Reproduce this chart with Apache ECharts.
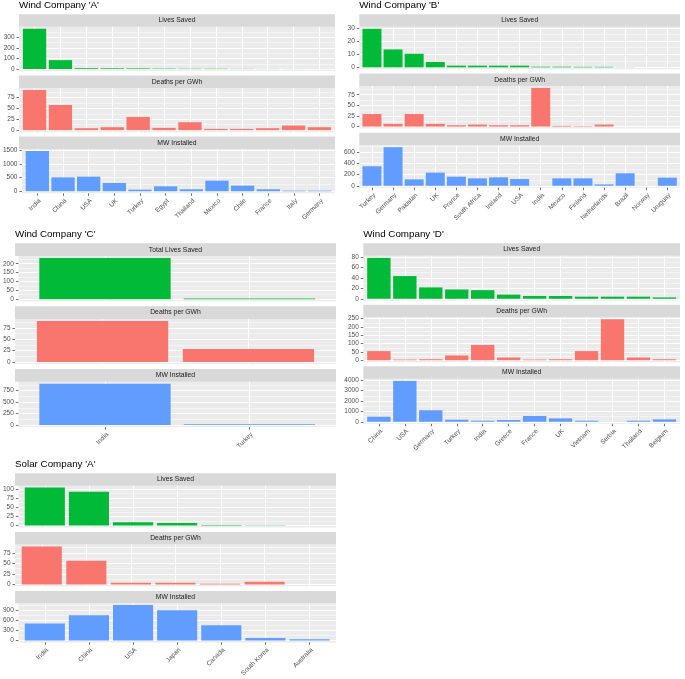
<!DOCTYPE html>
<html><head><meta charset="utf-8">
<script src="https://cdn.jsdelivr.net/npm/echarts@6/dist/echarts.min.js"></script>
<style>html,body{margin:0;padding:0;background:#fff}#c{width:685px;height:679px}</style>
</head><body><div id="c"></div>
<script>
// ---------- DATA ----------
const windA_countries = ['India','China','USA','UK','Turkey','Egypt','Thailand','Mexico','Chile','France','Italy','Germany'];
const windA_lives  = [378, 84, 8, 7, 6, 4, 3, 3, 1.5, 1, 0.6, 0.4];
const windA_deaths = [92, 57.5, 4.5, 6.8, 30.3, 5.3, 18.2, 3, 3, 4.5, 10.6, 6.8];
const windA_mw     = [1464, 508, 532, 302, 60, 181, 73, 387, 206, 73, 24, 24];
const windA_livesTicks  = [0, 100, 200, 300];
const windA_deathsTicks = [0, 25, 50, 75];
const windA_mwTicks     = [0, 500, 1000, 1500];

const windB_countries = ['Turkey','Germany','Pakistan','UK','France','South Africa','Ireland','USA','India','Mexico','Finland','Netherlands','Brazil','Norway','Uruguay'];
const windB_lives  = [29.3, 13.6, 10.3, 4.1, 1.3, 1.3, 1.3, 1.3, 0.5, 0.5, 0.4, 0.4, 0.1, 0, 0];
const windB_deaths = [29.5, 6.4, 29.5, 6.4, 3.2, 4.8, 3.2, 3.2, 91, 1.6, 1, 4.8, 0, 0, 0];
const windB_mw     = [348, 688, 114, 234, 162, 132, 150, 120, 0, 132, 132, 24, 222, 0, 144];
const windB_livesTicks  = [0, 10, 20, 30];
const windB_deathsTicks = [0, 25, 50, 75];
const windB_mwTicks     = [0, 200, 400, 600];

const windC_countries = ['India','Turkey'];
const windC_lives  = [232, 4];
const windC_deaths = [90, 28.4];
const windC_mw     = [900, 15];
const windC_livesTicks  = [0, 50, 100, 150, 200];
const windC_deathsTicks = [0, 25, 50, 75];
const windC_mwTicks     = [0, 250, 500, 750];

const windD_countries = ['China','USA','Germany','Turkey','India','Greece','France','UK','Vietnam','Serbia','Thailand','Belgium'];
const windD_lives  = [78.6, 43.6, 21.8, 17.8, 16.5, 7.9, 5.3, 5.3, 4, 4, 4, 2.6];
const windD_deaths = [55, 4, 6, 28.7, 92, 16.4, 4, 6, 55, 246, 16.4, 6];
const windD_mw     = [488, 3935, 1106, 195, 98, 163, 553, 325, 98, 0, 98, 228];
const windD_livesTicks  = [0, 20, 40, 60, 80];
const windD_deathsTicks = [0, 50, 100, 150, 200, 250];
const windD_mwTicks     = [0, 1000, 2000, 3000, 4000];

const solarA_countries = ['India','China','USA','Japan','Canada','South Korea','Australia'];
const solarA_lives  = [103.7, 92.7, 9.2, 7.3, 1.8, 0.9, 0];
const solarA_deaths = [90.5, 56.3, 4, 4, 1.6, 6.3, 0];
const solarA_mw     = [510, 751, 1057, 900, 455, 74, 37];
const solarA_livesTicks  = [0, 25, 50, 75, 100];
const solarA_deathsTicks = [0, 25, 50, 75];
const solarA_mwTicks     = [0, 300, 600, 900];

// ---------- LAYOUT / STYLE ----------
const FONT = '"Liberation Sans", Arial, sans-serif';
const COLORS = ['#00BA38', '#F8766D', '#619CFF'];

const panels = [
  { title: "Wind Company 'A'", cats: windA_countries,
    facets: [['Lives Saved', windA_lives, windA_livesTicks], ['Deaths per GWh', windA_deaths, windA_deathsTicks], ['MW Installed', windA_mw, windA_mwTicks]],
    L: { left: 19, right: 335, top: 14.3, strip: 12.5, plot: 44.3, gap: 4.3, titleY: 0.5 } },
  { title: "Wind Company 'B'", cats: windB_countries,
    facets: [['Lives Saved', windB_lives, windB_livesTicks], ['Deaths per GWh', windB_deaths, windB_deathsTicks], ['MW Installed', windB_mw, windB_mwTicks]],
    L: { left: 359.3, right: 680, top: 14.3, strip: 12.5, plot: 42.5, gap: 4.2, titleY: 0.5 } },
  { title: "Wind Company 'C'", cats: windC_countries,
    facets: [['Total Lives Saved', windC_lives, windC_livesTicks], ['Deaths per GWh', windC_deaths, windC_deathsTicks], ['MW Installed', windC_mw, windC_mwTicks]],
    L: { left: 15, right: 336, top: 243.3, strip: 12.7, plot: 45.2, gap: 5, titleY: 229.5 } },
  { title: "Wind Company 'D'", cats: windD_countries,
    facets: [['Lives Saved', windD_lives, windD_livesTicks], ['Deaths per GWh', windD_deaths, windD_deathsTicks], ['MW Installed', windD_mw, windD_mwTicks]],
    L: { left: 363.3, right: 680, top: 243.3, strip: 12.5, plot: 45, gap: 4, titleY: 229.5 } },
  { title: "Solar Company 'A'", cats: solarA_countries,
    facets: [['Lives Saved', solarA_lives, solarA_livesTicks], ['Deaths per GWh', solarA_deaths, solarA_deathsTicks], ['MW Installed', solarA_mw, solarA_mwTicks]],
    L: { left: 15, right: 336, top: 473.3, strip: 12.4, plot: 41.8, gap: 4.6, titleY: 459.5 } }
];

const grids = [], xAxes = [], yAxes = [], series = [], graphics = [];

panels.forEach(p => {
  const L = p.L;
  const w = L.right - L.left;
  const n = p.cats.length;
  const idx = p.cats.map((_, i) => i);
  graphics.push({ type: 'text', x: L.left, y: L.titleY, silent: true,
    style: { text: p.title, font: '9.8px ' + FONT, fill: '#000', verticalAlign: 'top' } });
  p.facets.forEach((f, k) => {
    const [name, values, ticks] = f;
    const stripTop = L.top + k * (L.strip + L.plot + L.gap);
    const plotTop = stripTop + L.strip;
    graphics.push({ type: 'rect', silent: true, shape: { x: L.left, y: stripTop, width: w, height: L.strip }, style: { fill: '#D9D9D9' } });
    graphics.push({ type: 'text', silent: true, x: L.left + w / 2, y: stripTop + L.strip / 2,
      style: { text: name, font: '6.8px ' + FONT, fill: '#1A1A1A', align: 'center', verticalAlign: 'middle' } });
    const gi = grids.length;
    grids.push({ left: L.left, top: plotTop, width: w, height: L.plot, show: true, backgroundColor: '#EBEBEB', borderWidth: 0 });
    const bottom = k === 2;
    xAxes.push({ type: 'value', gridIndex: gi, min: -0.6, max: n - 0.4, position: 'bottom',
      axisLine: { show: false, onZero: false },
      axisTick: { show: bottom, customValues: idx, length: 2.5, lineStyle: { color: '#333333', width: 0.7 } },
      axisLabel: { show: bottom, customValues: idx, rotate: 45, margin: 4, fontSize: 6.5, fontFamily: FONT, color: '#4D4D4D',
        align: 'right', verticalAlign: 'top',
        formatter: v => p.cats[Math.round(v)] },
      splitLine: { show: true, lineStyle: { color: '#FFFFFF', width: 1 } } });
    const M = Math.max(...values);
    const ymin = -0.05 * M, ymax = 1.05 * M;
    const step = ticks[1] - ticks[0];
    const minors = [];
    for (let t = ticks[0] - step / 2; t <= ymax; t += step) if (t >= ymin) minors.push(t);
    const yi = yAxes.length;
    yAxes.push({ type: 'value', gridIndex: gi, min: ymin, max: ymax, position: 'left',
      axisLine: { show: false, onZero: false },
      axisTick: { show: true, customValues: ticks, length: 2.5, lineStyle: { color: '#333333', width: 0.7 } },
      axisLabel: { customValues: ticks, margin: 4.5, fontSize: 6.5, fontFamily: FONT, color: '#4D4D4D',
        formatter: v => String(Math.round(v)) },
      splitLine: { show: true, lineStyle: { color: '#FFFFFF', width: 1 } } });
    yAxes.push({ type: 'value', gridIndex: gi, min: ymin, max: ymax, position: 'left',
      axisLine: { show: false, onZero: false },
      axisTick: { show: false, customValues: minors },
      axisLabel: { show: false, customValues: minors },
      splitLine: { show: true, lineStyle: { color: '#FFFFFF', width: 0.5 } } });
    series.push({ type: 'bar', xAxisIndex: gi, yAxisIndex: yi, silent: true,
      barWidth: 0.9 * w / (n + 0.2),
      itemStyle: { color: COLORS[k] },
      data: values.map((v, i) => [i, v]) });
  });
});

const chart = echarts.init(document.getElementById('c'), null, { renderer: 'canvas' });
chart.setOption({
  animation: false,
  grid: grids, xAxis: xAxes, yAxis: yAxes, series: series,
  graphic: { elements: graphics }
});
</script></body></html>
